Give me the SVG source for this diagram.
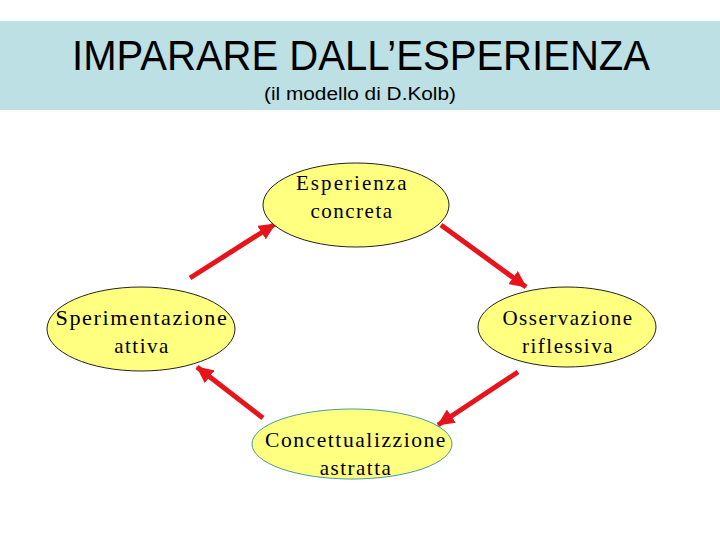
<svg xmlns="http://www.w3.org/2000/svg" width="720" height="540" viewBox="0 0 720 540">
<style>
.node ellipse{fill:#FFFF80;stroke:#222;stroke-width:1}
.node text{font-family:"Liberation Serif","Times New Roman",serif;font-size:21px;fill:#000;text-anchor:middle;letter-spacing:1.5px}
.conn line{stroke:#E8141B;stroke-width:5}
.title{font-family:"Liberation Sans",Arial,sans-serif;fill:#000;text-anchor:middle}
</style>
<defs>
<marker id="ah" markerUnits="userSpaceOnUse" markerWidth="18" markerHeight="16" refX="16" refY="8" orient="auto">
<path d="M0,0 L17,8 L0,16 Z" fill="#E8141B"/>
</marker>
</defs>
<rect x="0" y="0" width="720" height="540" fill="#fff"/>
<g id="header">
<rect x="0" y="21" width="720" height="89" fill="#BCE0E4"/>
<text class="title" x="361" y="70" font-size="42" textLength="578" lengthAdjust="spacingAndGlyphs">IMPARARE DALL’ESPERIENZA</text>
<text class="title" x="360" y="100" font-size="18" textLength="192" lengthAdjust="spacingAndGlyphs">(il modello di D.Kolb)</text>
</g>
<g id="connectors" class="conn">
<line x1="190" y1="278" x2="275" y2="224" marker-end="url(#ah)"/>
<line x1="441" y1="225" x2="526" y2="287" marker-end="url(#ah)"/>
<line x1="518" y1="372" x2="438" y2="425" marker-end="url(#ah)"/>
<line x1="263" y1="418" x2="197" y2="367" marker-end="url(#ah)"/>
</g>
<g id="esperienza" class="node">
<ellipse cx="356" cy="205" rx="93" ry="42"/>
<text x="352" y="190" textLength="112">Esperienza</text>
<text x="352" y="218">concreta</text>
</g>
<g id="sperimentazione" class="node">
<ellipse cx="141" cy="329" rx="94" ry="42"/>
<text x="142" y="325" textLength="173" lengthAdjust="spacingAndGlyphs">Sperimentazione</text>
<text x="142" y="353">attiva</text>
</g>
<g id="osservazione" class="node">
<ellipse cx="567" cy="327" rx="89" ry="40"/>
<text x="568" y="325">Osservazione</text>
<text x="568" y="353">riflessiva</text>
</g>
<g id="concettualizzazione" class="node">
<ellipse cx="352" cy="444" rx="100" ry="35" style="stroke:#4A9A9A"/>
<text x="356" y="447" textLength="182" lengthAdjust="spacingAndGlyphs">Concettualizzione</text>
<text x="356" y="475">astratta</text>
</g>
</svg>
